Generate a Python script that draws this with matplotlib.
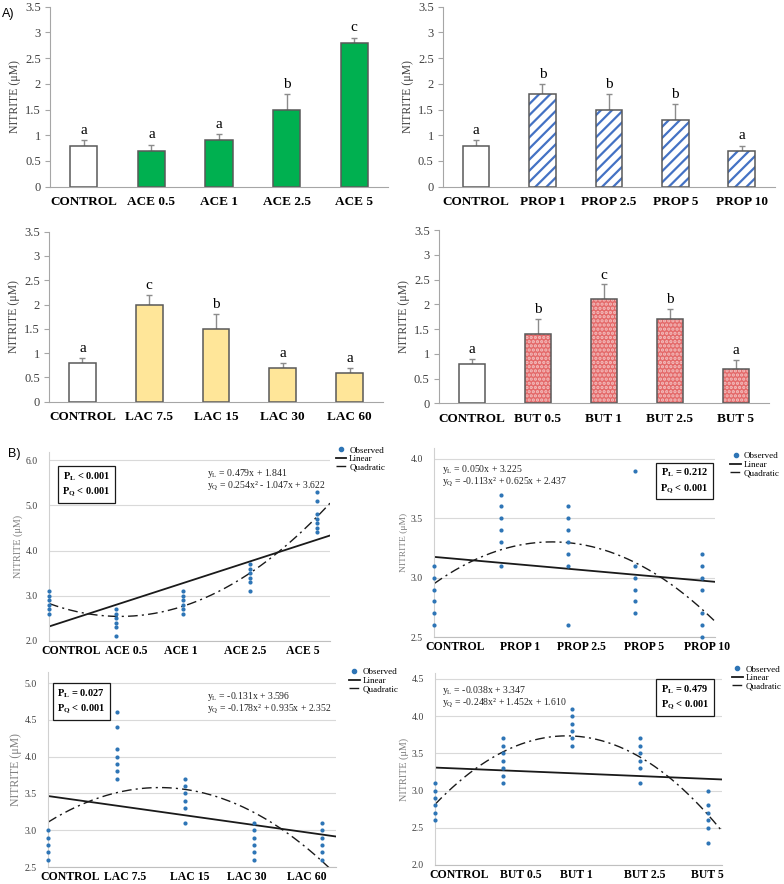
import numpy as np
import matplotlib.pyplot as plt
from matplotlib.lines import Line2D

plt.rcParams['font.family'] = ['Liberation Serif', 'DejaVu Serif']
plt.rcParams['mathtext.fontset'] = 'custom'
plt.rcParams['mathtext.rm'] = 'Liberation Serif'
plt.rcParams['mathtext.bf'] = 'Liberation Serif:bold'
plt.rcParams['hatch.linewidth'] = 1.6

# ---- A) mean nitrite per treatment ----
ace_labels = ['CONTROL', 'ACE 0.5', 'ACE 1', 'ACE 2.5', 'ACE 5']
ace_means = [0.8, 0.7, 0.9, 1.5, 2.8]
ace_err = [0.1, 0.12, 0.12, 0.3, 0.1]
ace_letters = ['a', 'a', 'a', 'b', 'c']

prop_labels = ['CONTROL', 'PROP 1', 'PROP 2.5', 'PROP 5', 'PROP 10']
prop_means = [0.8, 1.8, 1.5, 1.3, 0.7]
prop_err = [0.1, 0.2, 0.3, 0.3, 0.1]
prop_letters = ['a', 'b', 'b', 'b', 'a']

lac_labels = ['CONTROL', 'LAC 7.5', 'LAC 15', 'LAC 30', 'LAC 60']
lac_means = [0.8, 2.0, 1.5, 0.7, 0.6]
lac_err = [0.1, 0.2, 0.3, 0.1, 0.1]
lac_letters = ['a', 'c', 'b', 'a', 'a']

but_labels = ['CONTROL', 'BUT 0.5', 'BUT 1', 'BUT 2.5', 'BUT 5']
but_means = [0.8, 1.4, 2.1, 1.7, 0.7]
but_err = [0.09, 0.3, 0.3, 0.2, 0.18]
but_letters = ['a', 'b', 'c', 'b', 'a']

# ---- B) observed values and fitted trends ----
dose_x = [1, 2, 3, 4, 5]

ace_obs = [[3.1, 3.0, 2.9, 2.8, 2.7, 2.6],
           [2.7, 2.6, 2.5, 2.4, 2.3, 2.1],
           [3.1, 3.0, 2.9, 2.8, 2.7, 2.6],
           [3.7, 3.6, 3.5, 3.4, 3.3, 3.1],
           [5.3, 5.1, 4.8, 4.7, 4.6, 4.5, 4.4]]
ace_lin = [0.479, 1.841]
ace_quad = [0.254, -1.047, 3.622]

prop_obs = [[3.1, 3.0, 2.9, 2.8, 2.7, 2.6],
            [3.7, 3.6, 3.5, 3.4, 3.3, 3.1],
            [3.6, 3.5, 3.4, 3.3, 3.2, 3.1, 2.6],
            [3.9, 3.1, 3.0, 2.9, 2.8, 2.7],
            [3.2, 3.1, 3.0, 2.9, 2.7, 2.6, 2.5]]
prop_lin = [-0.050, 3.225]   # line as drawn (falls slightly)
prop_quad = [-0.113, 0.625, 2.437]

lac_obs = [[3.0, 2.9, 2.8, 2.7, 2.6],
           [4.6, 4.4, 4.1, 4.0, 3.9, 3.8, 3.7],
           [3.7, 3.6, 3.5, 3.4, 3.3, 3.1],
           [3.1, 3.0, 2.9, 2.8, 2.7, 2.6],
           [3.1, 3.0, 2.9, 2.8, 2.7, 2.6]]
lac_lin = [-0.131, 3.596]
lac_quad = [-0.178, 0.935, 2.352]

but_obs = [[3.1, 3.0, 2.9, 2.8, 2.7, 2.6],
           [3.7, 3.6, 3.5, 3.4, 3.3, 3.2, 3.1],
           [4.1, 4.0, 3.9, 3.8, 3.7, 3.6],
           [3.7, 3.6, 3.5, 3.4, 3.3, 3.1],
           [3.0, 2.8, 2.7, 2.6, 2.5, 2.3]]
but_lin = [-0.038, 3.347]
but_quad = [-0.248, 1.452, 1.610]

ace_eq = [r'y$_\mathregular{L}$ = 0.479x + 1.841',
          r'y$_\mathregular{Q}$ = 0.254x² - 1.047x + 3.622']
prop_eq = [r'y$_\mathregular{L}$ = 0.050x + 3.225',
           r'y$_\mathregular{Q}$ = -0.113x² + 0.625x + 2.437']
lac_eq = [r'y$_\mathregular{L}$ = -0.131x + 3.596',
          r'y$_\mathregular{Q}$ = -0.178x² + 0.935x + 2.352']
but_eq = [r'y$_\mathregular{L}$ = -0.038x + 3.347',
          r'y$_\mathregular{Q}$ = -0.248x² + 1.452x + 1.610']

ace_p = r'P$_\mathbf{L}$ < 0.001' + '\n' + r'P$_\mathbf{Q}$ < 0.001'
prop_p = r'P$_\mathbf{L}$ = 0.212' + '\n' + r'P$_\mathbf{Q}$ < 0.001'
lac_p = r'P$_\mathbf{L}$ = 0.027' + '\n' + r'P$_\mathbf{Q}$ < 0.001'
but_p = r'P$_\mathbf{L}$ = 0.479' + '\n' + r'P$_\mathbf{Q}$ < 0.001'

GRAY = '#595959'
DOT_BLUE = '#2E75B6'


def bar_panel(ax, labels, means, errs, letters, color, hatch=None, hatch_color=None):
    x = np.arange(len(labels))
    faces = ['white'] + [color] * (len(labels) - 1)
    ax.bar(x, means, 0.4, color=faces, edgecolor='none', zorder=2)
    if hatch:
        ax.bar(x[1:], means[1:], 0.4, fill=False, hatch=hatch,
               edgecolor=hatch_color, linewidth=0, zorder=2.1)
    ax.bar(x, means, 0.4, fill=False, edgecolor=GRAY, linewidth=1.1, zorder=2.2)
    ax.errorbar(x, means, yerr=[np.zeros(len(errs)), errs], fmt='none',
                ecolor='#8C8C8C', elinewidth=1, capsize=2.5, zorder=1.5)
    for xi, m, e, t in zip(x, means, errs, letters):
        ax.text(xi, m + e + 0.06, t, ha='center', va='bottom', fontsize=11)
    ax.set_xlim(-0.5, 4.5)
    ax.set_ylim(0, 3.5)
    ax.set_yticks(np.arange(0, 3.51, 0.5))
    ax.set_yticklabels(['0', '0.5', '1', '1.5', '2', '2.5', '3', '3.5'])
    ax.set_xticks(x)
    ax.set_xticklabels(labels, fontweight='bold', fontsize=9.5)
    ax.tick_params(axis='x', length=0, pad=7)
    ax.tick_params(axis='y', length=3.5, width=0.8, color='#A6A6A6',
                   labelsize=9, labelcolor='#404040', pad=3)
    for s in ['top', 'right']:
        ax.spines[s].set_visible(False)
    for s in ['left', 'bottom']:
        ax.spines[s].set_color('#A6A6A6')
    ax.set_ylabel('NITRITE (μM)', fontsize=8.5, color='#404040', labelpad=3)


def trend_panel(ax, obs, lin, quad, eq, ptext, ylim, yticks, labels, label_x,
                eq_pos, p_pos, leg_pos, ylab_size):
    for xi, vals in zip(dose_x, obs):
        ax.scatter([xi] * len(vals), vals, s=9, color=DOT_BLUE, zorder=3,
                   clip_on=False, linewidths=0)
    xs = np.linspace(1, 5.2, 200)
    ax.plot(xs, np.polyval(lin, xs), color='#1a1a1a', lw=1.3, zorder=2)
    ax.plot(xs, np.polyval(quad, xs), color='#1a1a1a', lw=1.0,
            ls=(0, (7, 3, 1.5, 3)), zorder=2)
    ax.set_xlim(1, 5.2)
    ax.set_ylim(*ylim)
    ax.set_yticks(yticks)
    ax.set_yticklabels(['%.1f' % v for v in yticks])
    ax.yaxis.grid(True, color='#D9D9D9', lw=0.8)
    ax.set_axisbelow(True)
    ax.set_xticks(label_x)
    ax.set_xticklabels(labels, fontweight='bold', fontsize=8.5)
    ax.tick_params(axis='x', length=0, pad=3)
    ax.tick_params(axis='y', length=0, labelsize=7, labelcolor='#404040', pad=8)
    for s in ['top', 'right']:
        ax.spines[s].set_visible(False)
    ax.spines['left'].set_color('#D0D0D0')
    ax.spines['bottom'].set_color('#BFBFBF')
    ax.set_ylabel('NITRITE (μM)', fontsize=ylab_size, color='#7F7F7F', labelpad=2)
    ax.text(eq_pos[0], eq_pos[1], eq[0], transform=ax.transAxes, fontsize=7,
            color='#262626', ha='left', va='center')
    ax.text(eq_pos[0], eq_pos[1] - 0.068, eq[1], transform=ax.transAxes, fontsize=7,
            color='#262626', ha='left', va='center')
    ax.text(p_pos[0], p_pos[1], ptext, transform=ax.transAxes, fontsize=7.5,
            fontweight='bold', ha='center', va='center', linespacing=1.3,
            bbox=dict(boxstyle='square,pad=0.45', fc='white', ec='#1a1a1a', lw=0.9))
    handles = [Line2D([], [], marker='o', ls='none', color=DOT_BLUE, ms=3),
               Line2D([], [], color='#1a1a1a', lw=1.3),
               Line2D([], [], color='#1a1a1a', lw=1.0, ls=(0, (7, 3, 1.5, 3)))]
    ax.legend(handles, ['Observed', 'Linear', 'Quadratic'], loc='upper left',
              bbox_to_anchor=leg_pos, frameon=False, fontsize=6.5, borderpad=0,
              labelspacing=0.0, handlelength=1.2, handletextpad=0.3,
              borderaxespad=0)


fig = plt.figure(figsize=(7.84, 8.84), dpi=100)

ax1 = fig.add_axes([0.0638, 0.7888, 0.4311, 0.2036])
bar_panel(ax1, ace_labels, ace_means, ace_err, ace_letters, '#00B050')
ax2 = fig.add_axes([0.5647, 0.7888, 0.4238, 0.2036])
bar_panel(ax2, prop_labels, prop_means, prop_err, prop_letters, 'white',
          hatch='///', hatch_color='#4472C4')
ax3 = fig.add_axes([0.0625, 0.5456, 0.4260, 0.1923])
bar_panel(ax3, lac_labels, lac_means, lac_err, lac_letters, '#FFE699')
ax4 = fig.add_axes([0.5596, 0.5438, 0.4209, 0.1960])
bar_panel(ax4, but_labels, but_means, but_err, but_letters, '#E46A6A',
          hatch='....', hatch_color='#F3C0C0')

bx1 = fig.add_axes([0.0625, 0.2749, 0.3584, 0.2139])
trend_panel(bx1, ace_obs, ace_lin, ace_quad, ace_eq, ace_p, (2.0, 6.18),
            [2.0, 3.0, 4.0, 5.0, 6.0], ace_labels, [1.33, 2.15, 2.97, 3.93, 4.79],
            (0.562, 0.888), (0.133, 0.828), (1.02, 1.03), 7.3)
bx2 = fig.add_axes([0.5536, 0.2794, 0.3584, 0.2135])
trend_panel(bx2, prop_obs, prop_lin, prop_quad, prop_eq, prop_p, (2.5, 4.09),
            [2.5, 3.0, 3.5, 4.0], prop_labels, [1.32, 2.28, 3.21, 4.14, 5.08],
            (0.028, 0.89), (0.891, 0.829), (1.055, 0.98), 6.8)
bx3 = fig.add_axes([0.0612, 0.0192, 0.3673, 0.2206])
trend_panel(bx3, lac_obs, lac_lin, lac_quad, lac_eq, lac_p, (2.5, 5.15),
            [2.5, 3.0, 3.5, 4.0, 4.5, 5.0], lac_labels, [1.32, 2.12, 3.07, 3.90, 4.77],
            (0.552, 0.877), (0.116, 0.849), (1.045, 1.02), 8.5)
bx4 = fig.add_axes([0.5548, 0.0215, 0.3661, 0.2172])
trend_panel(bx4, but_obs, but_lin, but_quad, but_eq, but_p, (2.0, 4.58),
            [2.0, 2.5, 3.0, 3.5, 4.0, 4.5], but_labels, [1.36, 2.26, 3.07, 4.07, 4.98],
            (0.024, 0.911), (0.871, 0.875), (1.035, 1.04), 7.3)

fig.text(0.002, 0.984, 'A)', fontsize=9, family='Liberation Sans', va='center')
fig.text(0.010, 0.486, 'B)', fontsize=9, family='Liberation Sans', va='center')

fig.savefig('out.png', dpi=100)
